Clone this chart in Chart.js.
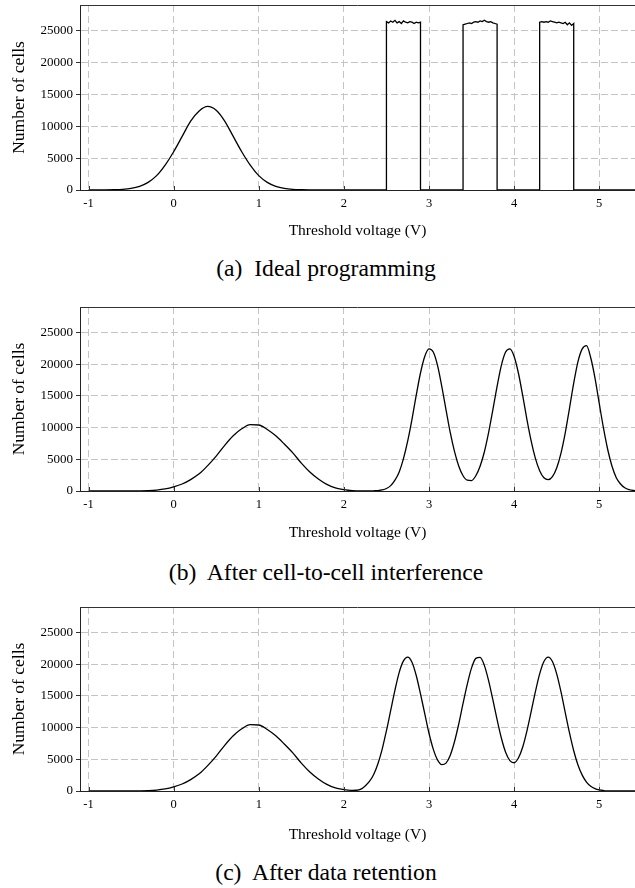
<!DOCTYPE html>
<html>
<head>
<meta charset="utf-8">
<title>Threshold voltage distributions</title>
<script src="https://cdn.jsdelivr.net/npm/chart.js@4/dist/chart.umd.min.js"></script>
<style>
  html, body { margin: 0; padding: 0; background: #fff; }
  body { width: 635px; height: 888px; position: relative; overflow: hidden; }
  canvas { position: absolute; left: 0; display: block; }
  .caption {
    position: absolute; left: 0; width: 652px; height: 26px; line-height: 26px;
    text-align: center; white-space: pre; color: #000;
    font-family: "Liberation Serif", "Times New Roman", serif; font-size: 23.6px;
  }
</style>
</head>
<body>
<canvas id="panelA" width="635" height="245" style="top:0px"></canvas>
<div class="caption" style="top:255px">(a)  Ideal programming</div>
<canvas id="panelB" width="635" height="246" style="top:300px"></canvas>
<div class="caption" style="top:559px">(b)  After cell-to-cell interference</div>
<canvas id="panelC" width="635" height="246" style="top:600px"></canvas>
<div class="caption" style="top:859px">(c)  After data retention</div>

<script>
const serif = '"Liberation Serif", "Times New Roman", serif';
const gridColor = '#c4c4c4';
const axisColor = '#222';

const voltTicks = [-1, 0, 1, 2, 3, 4, 5];
const cellTicks = [0, 5000, 10000, 15000, 20000, 25000];
const voltMin = -1.1;
const voltMax = 5.42;
const cellMax = 29000;

// (a) erased state, then three programmed states with flat tops
const voltsA = [-1.0, -0.9, -0.8, -0.7, -0.6, -0.5, -0.4, -0.3, -0.2, -0.1,
  0, 0.1, 0.2, 0.3, 0.4, 0.5, 0.6, 0.7, 0.8, 0.9,
  1.0, 1.1, 1.2, 1.3, 1.4, 1.5, 1.6, 1.7, 1.8, 1.9,
  2.0, 2.1, 2.2, 2.3, 2.4];
const cellsA = [0, 0, 10, 40, 100, 250, 580, 1200, 2250, 3900,
  6000, 8400, 10800, 12400, 13100, 12500, 10800, 8400, 6000, 3900,
  2250, 1200, 580, 250, 100, 40, 10, 0, 0, 0,
  0, 0, 0, 0, 0];
const rectStarts = [2.5, 3.4, 4.3];
const rectEnds = [2.9, 3.8, 4.7];
const rectTops = [
  [26400, 26200, 26500, 26300, 26600, 26200, 26400, 26100, 26500, 26300, 26200, 26400, 26300, 26100, 26300, 26200, 26300],
  [25900, 26000, 26100, 26200, 26100, 26300, 26400, 26300, 26500, 26400, 26600, 26400, 26300, 26400, 26200, 26100, 26000],
  [26300, 26400, 26300, 26400, 26300, 26500, 26400, 26300, 26200, 26300, 26200, 26100, 26300, 25900, 26200, 25800, 26100],
];

// (b) and (c) share one voltage grid, finer over the programmed states
const voltsBC = [-1.0, -0.9, -0.8, -0.7, -0.6, -0.5, -0.4, -0.3, -0.2, -0.1,
  0, 0.1, 0.2, 0.3, 0.4, 0.5, 0.6, 0.7, 0.8, 0.9,
  1.0, 1.1, 1.2, 1.3, 1.4, 1.5, 1.6, 1.7, 1.8, 1.9, 2.0,
  2.05, 2.1, 2.15, 2.2, 2.25, 2.3, 2.35, 2.4, 2.45, 2.5,
  2.55, 2.6, 2.65, 2.7, 2.75, 2.8, 2.85, 2.9, 2.95, 3.0,
  3.05, 3.1, 3.15, 3.2, 3.25, 3.3, 3.35, 3.4, 3.45, 3.5,
  3.55, 3.6, 3.65, 3.7, 3.75, 3.8, 3.85, 3.9, 3.95, 4.0,
  4.05, 4.1, 4.15, 4.2, 4.25, 4.3, 4.35, 4.4, 4.45, 4.5,
  4.55, 4.6, 4.65, 4.7, 4.75, 4.8, 4.85, 4.9, 4.95, 5.0,
  5.05, 5.1, 5.15, 5.2, 5.25, 5.3, 5.35, 5.4, 5.45];
const cellsB = [0, 0, 0, 0, 0, 0, 20, 60, 150, 330,
  650, 1100, 1800, 2700, 4000, 5500, 7200, 8700, 9800, 10450,
  10400, 9700, 8700, 7400, 6000, 4400, 3000, 1900, 1050, 500, 220,
  120, 60, 30, 15, 10, 10, 30, 70, 180, 400,
  850, 1700, 3000, 5100, 7900, 11300, 15100, 18600, 21200, 22400,
  21900, 19800, 16500, 12800, 9200, 6200, 3900, 2400, 1700, 1650,
  2400, 3900, 6150, 9200, 12800, 16500, 19800, 21900, 22400, 21200,
  18600, 15100, 11300, 7900, 5150, 3200, 2090, 1790, 2280, 3640,
  5940, 9130, 13000, 17000, 20400, 22400, 22900, 21000, 17800, 13800,
  9900, 6500, 3900, 2100, 1100, 500, 210, 80, 30];
const cellsC = [0, 0, 0, 0, 0, 0, 20, 60, 150, 330,
  650, 1100, 1800, 2700, 4000, 5500, 7200, 8700, 9800, 10450,
  10400, 9700, 8700, 7400, 6000, 4400, 3000, 1900, 1050, 500, 220,
  130, 100, 120, 300, 800, 1500, 2600, 4300, 6600, 9500,
  12700, 15900, 18700, 20500, 21100, 20300, 18200, 15300, 12200, 9100,
  6600, 4900, 4150, 4400, 5650, 7800, 10600, 13800, 16850, 19400,
  20900, 21050, 19800, 17400, 14400, 11250, 8350, 6100, 4800, 4450,
  5200, 6900, 9450, 12500, 15650, 18450, 20400, 21100, 20400, 18450,
  15650, 12400, 9200, 6350, 4100, 2500, 1400, 750, 370, 170,
  75, 30, 10, 0, 0, 0, 0, 0, 0];

function toPoints(xs, ys) {
  return xs.map((x, i) => ({ x, y: ys[i] }));
}

function buildRectPoints() {
  const points = [{ x: voltsA[voltsA.length - 1], y: 0 }];
  rectStarts.forEach((start, r) => {
    const tops = rectTops[r];
    const step = (rectEnds[r] - start) / (tops.length - 1);
    points.push({ x: start, y: 0 });
    tops.forEach((value, i) => points.push({ x: start + i * step, y: value }));
    points.push({ x: rectEnds[r], y: 0 });
  });
  points.push({ x: voltMax + 0.05, y: 0 });
  return points;
}

// top edge of the frame and short inward ticks on the voltage axis
const framePlugin = {
  id: 'frame',
  afterDraw(chart) {
    const { ctx, chartArea } = chart;
    const xScale = chart.scales.x;
    ctx.save();
    ctx.strokeStyle = '#333';
    ctx.lineWidth = 1;
    ctx.beginPath();
    ctx.moveTo(chartArea.left, chartArea.top + 0.5);
    ctx.lineTo(chartArea.right, chartArea.top + 0.5);
    voltTicks.forEach((v) => {
      const px = Math.round(xScale.getPixelForValue(v)) + 0.5;
      ctx.moveTo(px, chartArea.bottom);
      ctx.lineTo(px, chartArea.bottom - 4);
    });
    ctx.stroke();
    ctx.restore();
  },
};

function buildOptions(padTop, titlePad) {
  return {
    responsive: false,
    animation: false,
    events: [],
    layout: { padding: { top: padTop, left: 0, right: 0, bottom: 0 } },
    plugins: { legend: { display: false }, tooltip: { enabled: false } },
    elements: { point: { radius: 0 }, line: { borderWidth: 1.3, borderColor: '#000' } },
    scales: {
      x: {
        type: 'linear',
        min: voltMin,
        max: voltMax,
        afterBuildTicks: (axis) => { axis.ticks = voltTicks.map((value) => ({ value })); },
        afterFit: (axis) => {
          axis.height = 55;
          axis.paddingLeft = 0;
          axis.paddingRight = 0;
        },
        grid: { color: gridColor, drawTicks: false },
        border: { color: axisColor, width: 1, dash: [7, 4] },
        ticks: { padding: 6.5, color: '#000', maxRotation: 0, font: { family: serif, size: 12.5 }, callback: (v) => String(v) },
        title: {
          display: true, text: 'Threshold voltage (V)', color: '#000',
          font: { family: serif, size: 15.5 }, padding: { top: 0, bottom: titlePad },
        },
      },
      y: {
        type: 'linear',
        min: 0,
        max: cellMax,
        afterBuildTicks: (axis) => { axis.ticks = cellTicks.map((value) => ({ value })); },
        afterFit: (axis) => {
          axis.width = 80;
          axis.paddingTop = 0;
          axis.paddingBottom = 0;
        },
        grid: { color: gridColor, tickColor: '#333', tickLength: 4, tickBorderDash: [] },
        border: { color: axisColor, width: 1, dash: [7, 3] },
        ticks: { padding: 3, color: '#000', font: { family: serif, size: 13 }, callback: (v) => String(v) },
        title: {
          display: true, text: 'Number of cells', color: '#000',
          font: { family: serif, size: 17.5 }, padding: { top: 8.5, bottom: 0 },
        },
      },
    },
  };
}

function renderPanel(id, datasets, padTop, titlePad) {
  const canvas = document.getElementById(id);
  return new Chart(canvas, {
    type: 'line',
    data: { datasets },
    options: buildOptions(padTop, titlePad),
    plugins: [framePlugin],
  });
}

function init() {
  renderPanel('panelA', [
    { data: toPoints(voltsA, cellsA), cubicInterpolationMode: 'monotone' },
    { data: buildRectPoints(), tension: 0 },
  ], 5, 4.7);
  renderPanel('panelB', [
    { data: toPoints(voltsBC, cellsB), cubicInterpolationMode: 'monotone' },
  ], 7, 4);
  renderPanel('panelC', [
    { data: toPoints(voltsBC, cellsC), cubicInterpolationMode: 'monotone' },
  ], 7, 2);
}

init();
</script>
</body>
</html>
